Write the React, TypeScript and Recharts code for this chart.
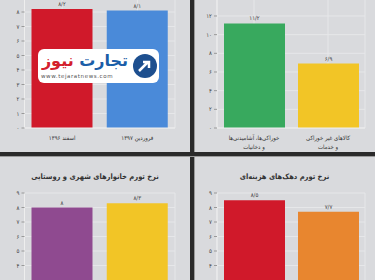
import React from 'react';
import { BarChart, Bar, XAxis, YAxis, CartesianGrid, Cell, LabelList } from 'recharts';

const monthCats = ['اسفند ۱۳۹۶', 'فروردین ۱۳۹۷'];
const monthValues = [8.2, 8.1];
const monthColors = ['#d0192a', '#4a8ad9'];

const groupCats = ['خوراکی‌ها، آشامیدنی‌ها\nو دخانیات', 'کالاهای غیر خوراکی\nو خدمات'];
const groupValues = [11.2, 6.9];
const groupColors = ['#38a95e', '#f2c526'];

const areaCats = ['شهری', 'روستایی'];
const areaValues = [8, 8.3];
const areaColors = ['#8f4a90', '#f2c526'];

const decileCats = ['دهک اول', 'دهک دهم'];
const decileValues = [8.5, 7.7];
const decileColors = ['#d0192a', '#e8862f'];

// only the ticks that fall inside the picture
const ticksTop9 = [0, 1, 2, 3, 4, 5, 6, 7, 8];
const ticksBottom9 = [4, 5, 6, 7, 8, 9];
const ticksTop14 = [0, 2, 4, 6, 8, 10, 12];

const FONT = '"DejaVu Sans Condensed", "DejaVu Sans", sans-serif';
const BG = '#d9dadd';

const toFa = (v: number | string) =>
    String(v).replace('.', '/').replace(/[0-9]/g, (d) => '۰۱۲۳۴۵۶۷۸۹'[Number(d)]);

const CatTick = (props: any) => {
    const { x, y, payload } = props;
    const lines = String(payload.value).split('\n');
    return (
        <g transform={`translate(${x},${y})`}>
            {lines.map((l, i) => (
                <text key={i} x={0} y={4 + i * 8.5} textAnchor="middle" fontSize={6} fill="#333" fontFamily={FONT}>
                    {l}
                </text>
            ))}
        </g>
    );
};

type PanelProps = {
    left: number;
    top: number;
    width: number;
    height: number;
    chartTop: number;
    chartHeight: number;
    marginTop: number;
    marginRight: number;
    yWidth: number;
    cats: string[];
    values: number[];
    colors: string[];
    max: number;
    ticks: number[];
    title?: string;
};

const Panel: React.FC<PanelProps> = (p) => {
    const data = p.cats.map((name, i) => ({ name, value: p.values[i] }));
    return (
        <div style={{ position: 'absolute', left: p.left, top: p.top, width: p.width, height: p.height, overflow: 'hidden', background: BG }}>
            {p.title && (
                <div style={{ position: 'absolute', top: 15, left: 0, width: p.width, textAlign: 'center', fontSize: 7.5, fontWeight: 'bold', color: '#333', fontFamily: FONT, direction: 'rtl', whiteSpace: 'nowrap' }}>
                    {p.title}
                </div>
            )}
            <div style={{ position: 'absolute', left: 0, top: p.chartTop }}>
                <BarChart width={p.width} height={p.chartHeight} data={data} margin={{ top: p.marginTop, right: p.marginRight, left: 0, bottom: 0 }}>
                    <CartesianGrid stroke="#e6e7e9" strokeWidth={1} />
                    {/* bottom charts run past the picture, so their category names are not shown */}
                    <XAxis dataKey="name" height={24} interval={0} tick={p.title ? false : <CatTick />} tickLine={false} axisLine={{ stroke: '#eeeeee' }} />
                    <YAxis
                        width={p.yWidth}
                        domain={[0, p.max]}
                        ticks={p.ticks}
                        interval={0}
                        tickFormatter={toFa}
                        tick={{ fontSize: 6, fill: '#444', fontFamily: FONT }}
                        tickSize={3}
                        tickLine={{ stroke: '#999' }}
                        axisLine={{ stroke: '#eeeeee' }}
                    />
                    <Bar dataKey="value" barSize={61} isAnimationActive={false}>
                        {data.map((d, i) => (
                            <Cell key={d.name} fill={p.colors[i]} />
                        ))}
                        <LabelList dataKey="value" position="top" offset={3} formatter={(v: any) => toFa(v)} style={{ fontSize: 6, fill: '#444', fontFamily: FONT }} />
                    </Bar>
                </BarChart>
            </div>
        </div>
    );
};

const Logo: React.FC = () => (
    <div style={{ position: 'absolute', left: 38, top: 49, width: 121, height: 34, background: '#fff', borderRadius: 6, fontFamily: '"DejaVu Sans", sans-serif' }}>
        <div style={{ position: 'absolute', left: 2, top: 1, width: 90, textAlign: 'center', direction: 'rtl', fontSize: 16, fontWeight: 'bold', lineHeight: '22px', whiteSpace: 'nowrap' }}>
            <span style={{ color: '#1b5ea8' }}>تجارت</span>
            <span style={{ color: '#d3202c' }}> نیوز</span>
        </div>
        <div style={{ position: 'absolute', left: 3, top: 24, fontSize: 5.5, color: '#555', letterSpacing: 0.6, whiteSpace: 'nowrap' }}>www.tejaratnews.com</div>
        <div style={{ position: 'absolute', left: 95, top: 5, width: 24, height: 24, borderRadius: 12, background: '#1d4f8f' }}>
            <svg width={24} height={24}>
                <path d="M6 17 L15 8 M10 8 L16 8 L16 14" stroke="#fff" strokeWidth={2.5} fill="none" />
            </svg>
        </div>
    </div>
);

export default function App() {
    return (
        <div style={{ position: 'absolute', left: 0, top: 0, width: 375, height: 280, overflow: 'hidden', background: BG }}>
            <Panel left={0} top={0} width={190} height={152} chartTop={-10} chartHeight={162} marginTop={7.5} marginRight={15} yWidth={24.5}
                cats={monthCats} values={monthValues} colors={monthColors} max={9} ticks={ticksTop9} />
            <Panel left={194} top={0} width={181} height={152} chartTop={-10} chartHeight={162} marginTop={7.3} marginRight={10} yWidth={23}
                cats={groupCats} values={groupValues} colors={groupColors} max={14} ticks={ticksTop14} />
            <Panel left={0} top={157} width={190} height={123} chartTop={0} chartHeight={190.5} marginTop={36} marginRight={15} yWidth={24.5}
                cats={areaCats} values={areaValues} colors={areaColors} max={9} ticks={ticksBottom9} title="نرخ تورم خانوارهای شهری و روستایی" />
            <Panel left={194} top={157} width={181} height={123} chartTop={0} chartHeight={190.5} marginTop={36} marginRight={10} yWidth={23}
                cats={decileCats} values={decileValues} colors={decileColors} max={9} ticks={ticksBottom9} title="نرخ تورم دهک‌های هزینه‌ای" />
            <div style={{ position: 'absolute', left: 190, top: 0, width: 4, height: 280, background: '#2a2a2a' }} />
            <div style={{ position: 'absolute', left: 194, top: 0, width: 1, height: 280, background: '#9a9a9a' }} />
            <div style={{ position: 'absolute', left: 0, top: 152, width: 375, height: 4, background: '#2a2a2a' }} />
            <div style={{ position: 'absolute', left: 0, top: 156, width: 375, height: 1, background: '#9a9a9a' }} />
            <Logo />
        </div>
    );
}
